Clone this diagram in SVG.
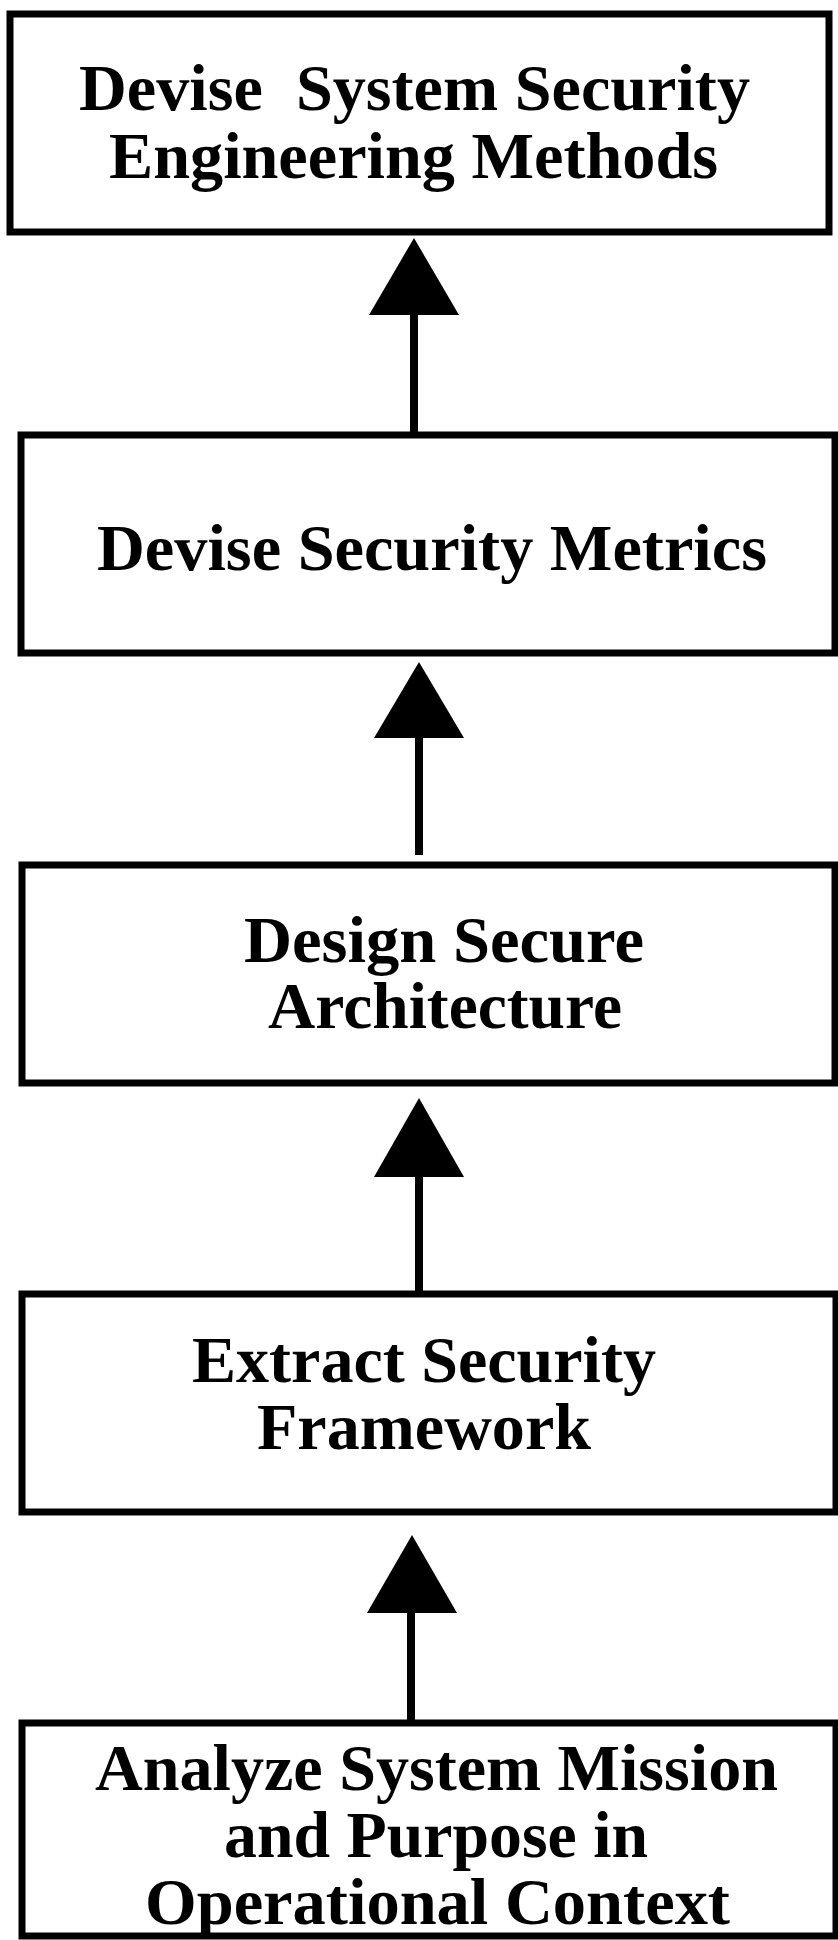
<svg xmlns="http://www.w3.org/2000/svg" width="838" height="1940" viewBox="0 0 838 1940">
<style>
.box{fill:#fff;stroke:#000;stroke-width:7}
.lbl{font-family:"Liberation Serif","Times New Roman",serif;font-weight:bold;font-size:66px;fill:#000;white-space:pre}
.conn{stroke:#000;stroke-width:8;fill:none}
.head{fill:#000}
</style>
<rect width="838" height="1940" fill="#fff"/>
<g id="n1">
<rect class="box" x="10" y="14" width="819" height="218"/>
<text class="lbl" x="79" y="110" textLength="671" lengthAdjust="spacingAndGlyphs">Devise  System Security</text>
<text class="lbl" x="109" y="178" textLength="609" lengthAdjust="spacingAndGlyphs">Engineering Methods</text>
</g>
<g id="n2">
<rect class="box" x="21" y="435" width="814" height="218"/>
<text class="lbl" x="97" y="570" textLength="670" lengthAdjust="spacingAndGlyphs">Devise Security Metrics</text>
</g>
<g id="n3">
<rect class="box" x="22" y="865" width="813" height="218"/>
<text class="lbl" x="244" y="962" textLength="400" lengthAdjust="spacingAndGlyphs">Design Secure</text>
<text class="lbl" x="268" y="1028" textLength="354" lengthAdjust="spacingAndGlyphs">Architecture</text>
</g>
<g id="n4">
<rect class="box" x="22" y="1294" width="814" height="218"/>
<text class="lbl" x="192" y="1382" textLength="464" lengthAdjust="spacingAndGlyphs">Extract Security</text>
<text class="lbl" x="257" y="1449" textLength="334" lengthAdjust="spacingAndGlyphs">Framework</text>
</g>
<g id="n5">
<rect class="box" x="22" y="1723" width="814" height="213"/>
<text class="lbl" x="95" y="1790" textLength="683" lengthAdjust="spacingAndGlyphs">Analyze System Mission</text>
<text class="lbl" x="224" y="1857" textLength="424" lengthAdjust="spacingAndGlyphs">and Purpose in</text>
<text class="lbl" x="145" y="1924" textLength="585" lengthAdjust="spacingAndGlyphs">Operational Context</text>
</g>
<g id="connectors">
<line class="conn" x1="414" y1="312" x2="414" y2="433"/>
<polygon class="head" points="414,238 369,315 459,315"/>
<line class="conn" x1="419" y1="735" x2="419" y2="855"/>
<polygon class="head" points="419,662 374,738 464,738"/>
<line class="conn" x1="419" y1="1174" x2="419" y2="1291"/>
<polygon class="head" points="419,1098 374,1177 464,1177"/>
<line class="conn" x1="411" y1="1610" x2="411" y2="1720"/>
<polygon class="head" points="412,1535 367,1613 457,1613"/>
</g>
</svg>
